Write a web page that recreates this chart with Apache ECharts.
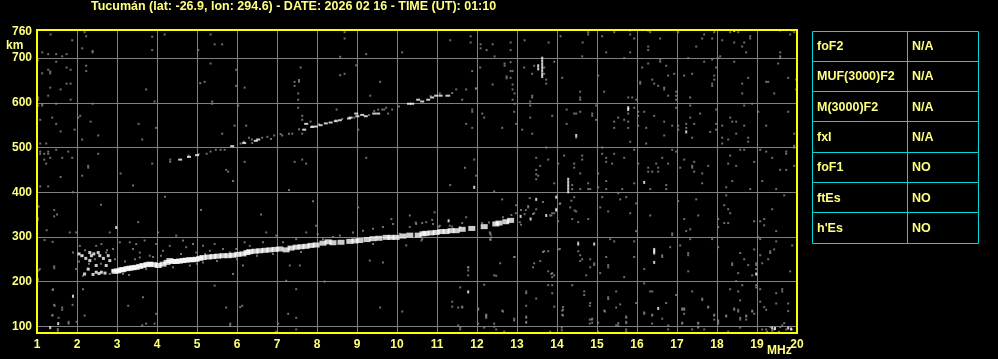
<!DOCTYPE html>
<html><head><meta charset="utf-8">
<script src="https://cdn.jsdelivr.net/npm/echarts@6/dist/echarts.min.js"></script>
<style>html,body{margin:0;padding:0;background:#000;}#c{width:998px;height:359px;}</style>
</head><body><div id="c"></div>
<script>
const titleText = 'Tucumán (lat: -26.9, lon: 294.6) - DATE: 2026 02 16 - TIME (UT): 01:10';
const freqRange = [1, 20];
const heightRange = [85, 763];
const heightLabels = [100, 200, 300, 400, 500, 600, 700, 760];
const freqUnit = 'MHz';
const heightUnit = 'km';
const tableLabels = ['foF2', 'MUF(3000)F2', 'M(3000)F2', 'fxI', 'foF1', 'ftEs', "h'Es"];
const tableValues = ['N/A', 'N/A', 'N/A', 'N/A', 'NO', 'NO', 'NO'];

// low-frequency loop of the F trace (white, fine)
const loopTrace = [
[2.05,262],[2.12,258],[2.19,217],[2.22,252],[2.28,228],[2.32,247],[2.32,265],[2.36,258],[2.42,262],[2.48,221],[2.48,236],[2.53,265],[2.57,258],[2.61,221],[2.66,252],[2.73,236],[2.78,258],[2.82,247],[2.90,224],[2.40,216],[2.55,218],[2.70,219]
];
// F-layer trace (white, thick)
const mainTrace = [
[2.95,223],[3.02,224],[3.10,226],[3.15,227],[3.25,229],[3.32,230],[3.40,231],[3.48,232],[3.57,234],[3.65,236],[3.75,238],[3.82,239],[3.92,238],[4.03,236],[4.15,239],[4.25,243],[4.32,247],[4.40,245],[4.48,245],[4.56,246],[4.65,247],[4.73,248],[4.82,249],[4.90,249],[4.98,250],[5.07,252],[5.15,254],[5.28,255],[5.40,256],[5.52,257],[5.65,258],[5.78,258],[5.90,259],[6.02,261],[6.15,262],[6.25,265],[6.32,267],[6.45,268],[6.57,269],[6.70,270],[6.82,271],[6.95,272],[7.07,273],[7.23,271],[7.35,275],[7.48,277],[7.60,278],[7.73,279],[7.85,281],[7.98,282],[8.15,286],[8.28,289],
[8.40,287],[8.60,288],[8.82,290],[8.95,291],[9.07,292],[9.25,294],[9.40,296],[9.55,297],[9.73,299],[9.85,299],[9.98,299],[10.15,302],[10.32,304],[10.53,304],[10.65,307],[10.72,308],[10.85,309],[10.98,310],[11.10,312],[11.23,312],[11.35,314],[11.48,314],[11.63,317],[11.87,319],[12.18,323],[12.47,329],[12.55,331],[12.72,334],[12.84,337]
];
// second-hop trace (white)
const secondHop = [
[4.58,473],[4.80,479],[5.00,483],[5.88,503],[6.18,510],[6.47,515],[6.53,518],[7.68,540],[7.73,553],[7.88,546],[7.97,547],[8.09,550],[8.22,554],[8.34,556],[8.47,559],[8.57,561],[8.80,565],[8.84,567],[8.98,576],[9.01,570],[9.13,573],[9.22,570],[9.43,576],[9.53,576],[10.30,598],[10.38,598],[10.53,607],[10.63,603],[10.78,607],[10.88,612],[10.98,616],[11.09,616],[11.28,616]
];
// isolated bright echoes (white)
const brightSpots = [
[13.63,700],[13.63,693],[13.63,686],[13.63,679],[13.63,672],[13.63,665],[13.63,659],[13.53,683],[13.53,676],
[14.28,429],[14.28,422],[14.28,415],[14.28,408],[14.28,401],
[15.78,589],[15.78,585],[17.23,535],[18.43,762],[14.48,527],[11.93,411],[16.18,422],[14.53,284],[14.93,284],
[16.43,272],[16.43,268],[16.43,264],[16.43,243],[18.98,217],[11.78,177],[16.53,140],[19.38,96],[19.78,96],
[13.48,384],[13.98,389],[13.98,360],[13.73,348],[13.09,346],[13.34,340],[11.29,336],[2.98,321],[1.90,167],[1.33,97],[1.53,106],[19.45,95],[19.85,94]
];
// scattered weak echoes / noise (grey)
const weakEchoes = [
[1.34,753],[2.19,758],[2.23,749],[3.88,748],[4.19,753],[5.34,753],[8.69,758],[8.69,744],[1.88,740],[2.13,722],[2.39,716],[2.39,713],[3.88,718],[5.03,718],[5.44,731],[5.63,731],[1.13,713],[1.28,709],[1.48,709],[1.63,704],[1.74,709],[8.58,703],[9.23,709],[10.13,713],
[1.02,695],[1.48,692],[5.34,688],[2.23,683],[1.74,679],[1.84,674],[1.28,674],[1.33,670],[1.33,666],[1.13,666],[2.23,671],[7.59,679],[8.98,684],[8.58,662],[8.69,665],[7.55,651],[7.55,647],[7.44,647],[7.44,638],[5.19,647],[5.08,644],[9.58,647],[1.33,634],[1.59,630],[1.74,643],[1.84,643],[3.73,630],[6.19,634],[5.98,674],[5.98,638],
[1.28,616],[1.03,612],[1.03,607],[1.84,607],[1.13,597],[1.13,594],[1.03,594],[1.48,598],[2.39,598],[3.94,603],[5.38,603],[5.38,598],[6.03,594],[7.53,621],[7.53,607],[7.53,589],[9.33,616],
[1.38,567],[1.08,562],[2.03,567],[2.08,571],[2.34,558],[1.48,553],[3.54,553],[3.98,544],[5.94,549],[6.23,549],[7.63,571],[7.63,562],[8.49,585],[9.78,576],[9.88,585],[9.73,589],[9.68,585],[9.53,585],
[1.59,536],[1.94,540],[2.53,527],[2.13,518],[3.63,518],[5.63,531],[9.03,540],[1.08,509],[1.23,509],[1.48,495],[1.08,491],[1.08,486],[1.18,486],[1.28,491],[1.28,486],[1.78,491],[1.88,477],[1.63,477],[1.33,477],[2.53,486],[1.18,473],[1.23,464],[2.28,459],[2.28,455],[2.13,437],[3.88,464],[3.09,442],[4.33,473],[4.33,468],[5.73,450],[5.78,446],[6.19,468],[7.44,468],[7.63,473],[7.73,464],[9.23,477],[1.59,434],
[4.79,482],[5.04,485],[5.24,486],[5.34,491],[5.47,495],[5.59,495],[5.69,495],[6.09,509],[6.17,513],[6.30,522],[6.37,518],[6.38,510],[6.63,522],[6.76,524],[6.85,519],[6.93,527],[7.09,530],[7.13,527],[7.30,531],[7.38,531],[7.55,541],[7.63,531],[7.84,558],[7.88,548],[8.05,552],[8.47,561],[8.63,564],[8.93,567],[9.30,573],[9.43,582],[9.63,585],[10.05,592],
[10.84,615],[11.07,621],[11.22,616],[11.38,622],[11.48,630],[11.73,630],[11.63,607],[11.97,632],
[11.33,740],[11.84,749],[11.84,735],[12.09,731],[12.09,722],[12.24,718],[12.39,731],[12.84,735],[12.84,718],[12.44,704],[13.19,740],[13.79,735],[14.09,749],[14.78,758],[14.78,753],[14.64,735],[15.13,749],[15.43,758],[15.83,762],[15.83,753],[15.93,744],[15.23,713],[15.83,713],[16.28,762],[16.33,758],[16.58,744],[16.28,726],[16.28,718],[17.03,758],[17.68,753],[17.63,744],[17.88,744],[17.93,758],[17.48,726],[18.13,740],[18.33,758],[18.43,735],[18.53,758],[18.68,735],[18.83,749],[18.83,744],[18.63,726],[18.73,713],[19.58,762],[19.83,753],[19.88,762],[19.93,758],[19.58,713],[19.58,704],[19.58,700],[14.63,704],[18.08,704],[18.03,700],
[11.88,671],[12.08,679],[11.98,632],[12.39,641],[12.69,688],[12.69,683],[12.84,691],[12.84,671],[12.89,671],[12.74,659],[12.74,655],[12.84,656],[12.89,641],[12.89,630],[12.94,621],[12.89,607],[12.94,598],[13.18,679],[13.38,665],[13.43,683],[13.68,679],[13.68,665],[13.73,652],[13.73,643],[13.93,692],[14.13,656],[13.38,616],[13.38,612],[13.33,603],[13.33,594],
[14.58,625],[14.58,612],[14.58,607],[15.03,661],[15.18,625],[15.68,700],[15.78,612],[15.88,612],[16.08,647],[16.08,643],[15.98,607],[16.13,679],[16.28,688],[16.38,652],[16.43,643],[16.53,638],[16.68,634],[16.68,630],[16.58,697],[16.58,692],[16.73,683],[16.78,661],[16.93,665],[16.98,625],[16.98,616],[16.98,607],[16.78,616],[17.18,661],[17.38,665],[17.33,612],[17.28,700],[17.68,692],[17.88,697],[17.93,661],[17.93,652],[17.88,643],[17.88,638],[17.98,679],[18.43,692],[18.63,643],[18.78,656],[18.63,621],[19.23,647],[19.28,647],[19.43,621],[19.53,688],[19.78,656],[19.98,652],[19.98,630],
[11.88,585],[11.88,580],[11.73,553],[11.88,544],[12.13,576],[12.18,567],[12.63,544],[12.93,580],[12.98,553],[13.13,540],[13.33,567],[13.38,531],[13.88,571],[14.24,585],[14.24,553],[14.43,576],[14.48,576],[14.58,580],[14.88,576],[14.88,571],[14.98,594],[14.98,562],[14.48,522],[15.43,558],[15.43,544],[15.53,567],[15.68,562],[15.78,558],[15.78,544],[15.78,576],[15.83,513],[15.93,589],[16.03,580],[16.03,571],[16.03,549],[16.18,580],[16.23,544],[16.23,509],[16.43,571],[16.68,558],[16.68,527],[16.88,549],[16.98,589],[17.03,549],[17.03,540],[17.23,544],[17.23,553],[17.33,567],[17.33,594],[17.38,522],[17.43,553],[17.58,576],[17.83,535],[17.98,585],[17.98,553],[17.98,540],[18.13,549],[18.13,522],[18.13,509],[18.28,518],[18.33,567],[18.38,558],[18.48,558],[18.48,531],[18.68,594],[18.68,549],[18.78,522],[18.78,513],[18.88,598],[19.03,580],[19.23,549],[19.78,580],[19.93,531],[19.93,504],
[13.73,500],[13.48,477],[13.58,459],[13.48,450],[13.48,440],[13.53,437],[13.78,473],[14.03,464],[14.18,482],[14.43,464],[14.43,455],[14.63,482],[14.63,473],[14.58,442],[15.03,442],[15.13,500],[15.13,486],[15.23,477],[15.23,468],[15.38,464],[15.43,486],[15.68,477],[15.93,495],[16.03,464],[16.28,455],[16.28,446],[16.38,446],[16.48,464],[16.53,455],[16.53,446],[16.63,477],[16.78,464],[16.88,495],[16.98,491],[17.08,455],[17.18,473],[17.38,459],[17.38,455],[17.43,468],[17.43,446],[17.63,442],[17.78,459],[18.33,482],[18.28,464],[18.48,459],[18.58,495],[18.68,495],[18.93,468],[19.08,495],[19.23,491],[19.38,477],[19.58,450],[19.73,491],[19.73,486],[19.73,450],[19.93,459],[19.93,500],[11.70,455],[11.93,473],[11.98,437],
[10.47,332],[10.63,331],[10.88,338],[11.05,323],[11.38,323],[11.63,331],[12.13,331],[12.30,332],[12.34,305],[12.34,293],[12.76,331],[12.97,353],[13.10,360],[13.10,327],[13.22,360],[13.28,369],[13.32,387],[13.43,353],[13.48,362],[13.88,353],[13.83,348],[13.93,420],
[11.33,416],[12.43,402],[12.63,384],[12.98,371],[13.28,366],[13.48,429],[13.93,353],[14.03,335],[14.08,375],[14.38,416],[14.38,407],[14.43,389],[14.33,366],[14.48,357],[14.38,340],[14.58,407],[14.78,420],[14.78,407],[14.83,407],[15.03,411],[14.78,340],[15.08,366],[15.13,389],[15.23,425],[15.23,407],[15.28,357],[15.53,398],[15.58,384],[15.63,407],[15.73,389],[15.83,353],[15.93,420],[15.98,375],[15.98,313],[16.33,348],[16.33,407],[16.73,416],[16.73,407],[17.03,380],[17.18,340],[17.23,313],[17.33,317],[17.48,384],[17.53,348],[17.63,420],[18.03,340],[18.03,322],[18.23,411],[18.23,393],[18.18,371],[18.28,362],[18.33,353],[18.18,331],[18.28,331],[18.93,335],[19.08,335],[19.18,340],[19.18,326],[19.38,362],[19.48,313],[19.68,393],[19.48,407],[19.13,425],[18.38,425],[18.83,407],
[10.63,295],[12.33,308],[12.33,295],[12.93,255],[11.78,232],[11.78,214],[12.43,214],[12.58,241],[13.43,241],[13.68,268],[13.78,268],[13.58,246],[13.78,223],[13.88,219],[13.88,210],[13.93,214],[14.03,272],[14.53,268],[14.58,259],[14.63,250],[14.58,246],[14.83,250],[14.83,232],[14.93,241],[14.93,237],[14.73,214],[15.08,219],[15.28,237],[15.28,232],[15.23,255],[15.33,295],[15.43,290],[15.68,210],[15.93,290],[15.93,255],[16.18,228],[16.63,259],[16.63,255],[16.83,277],[16.88,308],[16.88,304],[17.08,281],[17.28,264],[17.28,259],[17.33,295],[17.28,223],[17.88,295],[18.03,277],[18.38,241],[18.38,237],[18.53,219],[18.58,264],[18.68,250],[18.78,237],[18.93,272],[19.08,259],[19.13,241],[19.28,250],[19.33,264],[19.33,268],[19.43,272],[19.48,290],[19.83,223],[19.88,281],[19.03,299],[19.08,295],[18.98,241],[18.98,237],[18.98,228],[18.88,214],[18.48,201],
[11.58,187],[11.38,144],[11.63,144],[12.03,140],[12.18,193],[12.23,126],[12.23,122],[12.43,99],[12.63,135],[12.93,117],[12.93,113],[13.23,178],[13.23,174],[13.23,122],[13.23,108],[13.48,162],[13.78,192],[13.88,174],[13.88,192],[13.93,144],[14.13,135],[14.13,126],[14.38,192],[14.68,178],[14.68,170],[14.83,152],[14.88,117],[14.88,108],[15.03,108],[15.18,135],[15.28,165],[15.28,161],[15.48,178],[15.53,107],[15.73,107],[15.58,149],[15.73,122],[15.98,152],[16.18,196],[16.18,131],[16.33,178],[16.38,178],[16.38,126],[16.63,117],[16.73,152],[16.98,170],[17.13,140],[17.18,140],[17.13,108],[17.38,178],[17.53,108],[17.53,99],[17.63,162],[17.78,144],[17.93,126],[18.03,113],[18.23,122],[18.33,183],[18.43,140],[18.53,178],[18.58,158],[18.63,192],[18.73,122],[18.88,135],[18.98,192],[18.98,187],[19.08,183],[19.18,143],[19.48,174],[19.63,183],[19.63,178],[19.78,134],
[19.13,93],[19.23,93],[19.33,98],[19.43,93],[19.58,98],[19.63,102],[19.68,107],[19.73,93],[19.88,93],[19.25,88],[19.38,90],[19.55,88],[19.70,85],
[1.82,310],[1.98,310],[2.82,310],[2.07,280],[1.90,265],[2.15,258],[1.98,228],[2.15,213],[2.48,280],[2.61,284],[2.73,265],[2.90,273],[3.07,288],[3.32,288],[3.40,273],[3.48,284],[3.57,265],[3.69,292],[3.82,258],[3.98,284],[4.15,269],[4.32,280],[4.48,303],[4.65,292],[4.73,277],[4.90,284],[4.98,265],[5.15,280],[5.32,269],[5.44,284],[5.65,273],[5.82,265],[5.98,273],[6.19,288],[6.32,280],[6.65,288],[6.73,310],[6.98,303],[7.15,288],[7.32,277],[7.48,295],[7.73,310],[8.02,306],[8.15,295],[2.82,217],[3.15,217],[3.57,254],[3.73,228],[4.82,236],[5.15,243],[5.90,217],[6.15,236],[7.32,236],[7.57,236],[7.23,202],[8.19,200],[1.40,183],[2.15,183],[3.65,165],[5.44,191],[7.48,183],[7.98,325],[3.53,333],[4.03,310],[1.07,228],[1.02,206],
[8.57,303],[8.90,310],[9.15,314],[9.40,318],[9.65,322],[9.90,329],[10.07,307],[10.32,322],[10.48,329],[10.73,333],[10.90,329],[11.07,325],[11.32,325],[11.57,322],[11.73,344],[9.40,284],[10.23,281],[10.61,292],[12.32,310],[12.36,299],[12.65,344],[12.86,349],[13.07,333],[13.19,351],[13.40,351],[13.86,348],[13.98,363],[14.07,374],[14.36,381],[14.44,359],[14.53,333],[13.65,378],[9.03,366],[9.86,340],[10.32,348],[10.94,355],[9.32,247],[11.78,232],[11.78,225],[12.94,255],[13.40,232],[13.65,266],[13.86,217],[14.07,273],[14.53,288],[9.65,243],[12.48,213],
[1.02,368],[1.04,368],[1.43,360],[1.02,342],[1.02,338],[1.24,315],[1.19,293],[1.39,289],[1.43,234],[1.43,230],[1.04,225],[1.02,203],[1.39,181],[1.43,148],[1.39,125],[1.52,94],[1.52,90],[1.08,413],[1.28,413],[1.43,346],
[1.9,400],[2.6,372],[3.4,415],[4.2,390],[5.1,360],[5.9,425],[6.6,350],[7.3,405],[7.9,380],[1.5,350],
[2.3,240],[2.45,250],[2.6,240],[2.75,270],[2.2,270],[2.05,245],[2.95,250],[3.2,245],[3.45,250],[3.9,255],[4.1,258],[4.6,262],[5.2,262],[5.5,246],[6.0,250],[6.5,258],[6.9,262],[7.6,266],[8.4,300],[3.3,215],[4.4,232],[5.0,240],
[1.44,146],[1.63,142],[1.63,137],[1.89,148],[1.38,124],[1.54,119],[1.79,110],[1.79,106],[1.99,110],[2.19,124],[3.28,146],[3.98,128],[3.94,106],[3.73,106],[3.63,102],[5.73,142],[6.08,143],[6.13,146],[5.83,106],[5.83,102],[7.28,128],[7.48,119],[7.48,93],[7.03,106],[6.98,88],[9.58,142],[10.13,133],[11.38,155],[11.53,142],[11.63,142],[11.53,102],[11.58,97],[11.58,93],[12.03,137],[12.23,124],[12.23,119],[12.03,106],[12.18,97],[12.43,106],[12.48,93],
[12.65,133],[13.23,146],[13.23,119],[13.23,110],[12.68,88],[14.15,143],[14.15,137],[14.15,124],[14.12,97],[14.12,91],[13.83,88],[14.82,146],[14.82,115],[14.87,115],[14.82,106],[15.20,133],[15.48,142],[15.73,119],[15.73,110],[15.48,102],[15.53,102],[15.73,93],[15.73,88],[15.03,88],[16.18,128],[16.38,124],[16.38,106],[16.78,102],[16.78,93],[17.13,137],[17.18,137],[17.18,128],[17.13,106],[17.53,106],[17.53,97],[17.38,93],[17.68,93],[17.63,159],[17.78,142],[17.93,124],[17.93,115],[18.03,110],[18.03,106],[18.23,124],[18.28,88],[18.58,119],[18.58,115],[18.73,124],[18.73,115],[18.53,137],[18.53,133],[18.43,137],[18.88,133],[18.93,128],[18.58,97],[19.08,155],[19.78,151],[19.23,137],[19.48,151]
];

const chart = echarts.init(document.getElementById('c'), null, {renderer: 'canvas'});
const yellow = '#ffff00';
const labelYellow = '#ffff80';
const gridGrey = '#808080';
const cyan = '#00d8d8';
const font = 'Liberation Sans, Arial, sans-serif';

const tableX = 812, tableMid = 907, tableR = 978, tableY = 30.5, rowH = 30.3;
const tableGraphics = [];
tableLabels.forEach((lab, i) => {
  const y = tableY + i * rowH;
  const y0 = Math.round(y), y1 = Math.round(y + rowH);
  tableGraphics.push({type: 'rect', shape: {x: tableX + 0.5, y: y0 + 0.5, width: tableMid - tableX, height: y1 - y0}, style: {fill: 'none', stroke: cyan, lineWidth: 1}, silent: true});
  tableGraphics.push({type: 'rect', shape: {x: tableMid + 0.5, y: y0 + 0.5, width: tableR - tableMid, height: y1 - y0}, style: {fill: 'none', stroke: cyan, lineWidth: 1}, silent: true});
  tableGraphics.push({type: 'text', x: 817, y: y + rowH / 2 + 1, style: {text: lab, fill: labelYellow, font: 'bold 12.5px ' + font, textVerticalAlign: 'middle', textBaseline: 'middle'}, silent: true});
  tableGraphics.push({type: 'text', x: 912, y: y + rowH / 2 + 1, style: {text: tableValues[i], fill: labelYellow, font: 'bold 12.5px ' + font, textVerticalAlign: 'middle', textBaseline: 'middle'}, silent: true});
});

chart.setOption({
  backgroundColor: '#000',
  animation: false,
  title: {text: titleText, left: 91, top: 0, padding: 0, textStyle: {color: labelYellow, fontSize: 12.5, fontWeight: 'bold', fontFamily: font, lineHeight: 14}},
  grid: {left: 37, right: 201, top: 30, bottom: 26, show: true, borderColor: yellow, borderWidth: 2, backgroundColor: 'transparent', z: 10},
  xAxis: {
    type: 'value', min: freqRange[0], max: freqRange[1], interval: 1,
    axisLine: {show: false}, axisTick: {show: false},
    axisLabel: {color: labelYellow, fontSize: 12, fontWeight: 'bold', fontFamily: font, margin: 6},
    splitLine: {show: true, lineStyle: {color: gridGrey, width: 1}}
  },
  yAxis: {
    type: 'value', min: heightRange[0], max: heightRange[1],
    axisLine: {show: false}, axisTick: {show: false},
    axisLabel: {color: labelYellow, fontSize: 12, fontWeight: 'bold', fontFamily: font, margin: 5, customValues: heightLabels},
    splitLine: {show: true, lineStyle: {color: gridGrey, width: 1}}
  },
  graphic: [
    {type: 'text', left: 6, top: 40, style: {text: heightUnit, fill: labelYellow, font: 'bold 12px ' + font}, silent: true},
    {type: 'text', left: 767, top: 345, style: {text: freqUnit, fill: labelYellow, font: 'bold 12px ' + font}, silent: true}
  ].concat(tableGraphics),
  series: [
    {type: 'scatter', data: weakEchoes, symbol: 'rect', symbolSize: [2, 2], itemStyle: {color: '#8a8a8a'}, silent: true, z: 2},
    {type: 'scatter', data: secondHop, symbol: 'rect', symbolSize: [4, 2], itemStyle: {color: '#ffffff'}, silent: true, z: 3},
    {type: 'scatter', data: brightSpots, symbol: 'rect', symbolSize: [2, 3], itemStyle: {color: '#ffffff'}, silent: true, z: 3},
    {type: 'scatter', data: loopTrace, symbol: 'rect', symbolSize: [3, 3], itemStyle: {color: '#ffffff'}, silent: true, z: 3},
    {type: 'scatter', data: mainTrace, symbol: 'rect', symbolSize: [7, 5], itemStyle: {color: '#ffffff'}, silent: true, z: 3}
  ]
});
</script></body></html>
